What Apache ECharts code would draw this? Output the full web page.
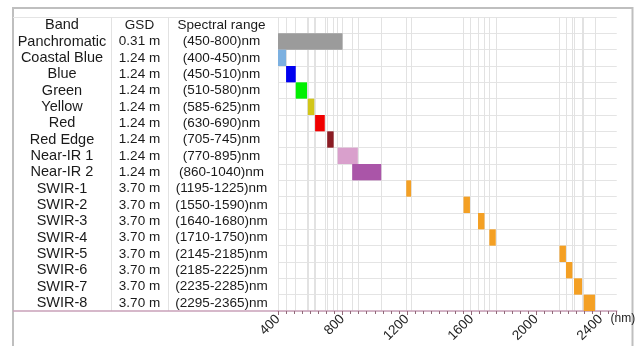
<!DOCTYPE html>
<html>
<head>
<meta charset="utf-8">
<script src="https://cdn.jsdelivr.net/npm/echarts@6/dist/echarts.min.js"></script>
<style>
html,body{margin:0;padding:0;background:#fff;}
#c{width:638px;height:346px;}
</style>
</head>
<body>
<div id="c"></div>
<script>
const headers = ['Band', 'GSD', 'Spectral range'];
const bands = ['Panchromatic', 'Coastal Blue', 'Blue', 'Green', 'Yellow', 'Red', 'Red Edge', 'Near-IR 1', 'Near-IR 2',
  'SWIR-1', 'SWIR-2', 'SWIR-3', 'SWIR-4', 'SWIR-5', 'SWIR-6', 'SWIR-7', 'SWIR-8'];
const gsd = ['0.31 m', '1.24 m', '1.24 m', '1.24 m', '1.24 m', '1.24 m', '1.24 m', '1.24 m', '1.24 m',
  '3.70 m', '3.70 m', '3.70 m', '3.70 m', '3.70 m', '3.70 m', '3.70 m', '3.70 m'];
const ranges = ['(450-800)nm', '(400-450)nm', '(450-510)nm', '(510-580)nm', '(585-625)nm', '(630-690)nm', '(705-745)nm',
  '(770-895)nm', '(860-1040)nm', '(1195-1225)nm', '(1550-1590)nm', '(1640-1680)nm', '(1710-1750)nm',
  '(2145-2185)nm', '(2185-2225)nm', '(2235-2285)nm', '(2295-2365)nm'];
// bar extents as drawn in the picture
const barStart = [400, 400, 450, 510, 585, 630, 705, 770, 860, 1195, 1550, 1640, 1710, 2145, 2185, 2235, 2295];
const barEnd = [800, 450, 510, 580, 625, 690, 745, 895, 1040, 1225, 1590, 1680, 1750, 2185, 2225, 2285, 2365];
const barColors = ['#9b9b9b', '#7cb0e0', '#0000f0', '#00f000', '#d2c619', '#f00000', '#8b1c24', '#d9a0cc', '#aa55a8',
  '#f4a024', '#f4a024', '#f4a024', '#f4a024', '#f4a024', '#f4a024', '#f4a024', '#f4a024'];

const FONT = '"Liberation Sans", Arial, sans-serif';
const rows = [headers[0]].concat(bands);
const boundaries = Array.from(new Set(barStart.concat(barEnd))).sort((a, b) => a - b);

const chart = echarts.init(document.getElementById('c'), null, {renderer: 'canvas'});
const option = {
  animation: false,
  backgroundColor: '#ffffff',
  grid: {left: 278, right: 16, top: 17, bottom: 35},
  xAxis: {
    type: 'value', min: 400, max: 2500, interval: 400,
    axisLine: {show: true, lineStyle: {color: '#c9a0b8', width: 1.5}},
    axisTick: {show: true, length: 4, lineStyle: {color: '#906878'}},
    minorTick: {show: true, splitNumber: 8, length: 3, lineStyle: {color: '#906878'}},
    splitLine: {show: false},
    axisLabel: {
      rotate: 45, margin: 6, fontSize: 13.5, color: '#222', fontFamily: FONT,
      showMaxLabel: false,
      formatter: v => (v > 2400 ? '' : String(v))
    },
    name: '(nm)', nameLocation: 'end', nameGap: -12,
    nameTextStyle: {fontSize: 12, color: '#222', fontFamily: FONT, align: 'left', verticalAlign: 'top', padding: [2, 0, 0, 0]}
  },
  yAxis: {
    type: 'category', inverse: true, data: rows,
    axisLine: {show: false}, axisTick: {show: false},
    splitLine: {show: true, lineStyle: {color: '#e4e4e4', width: 1}},
    axisLabel: {
      margin: 3, fontFamily: FONT, color: '#1a1a1a',
      formatter: (v, i) => {
        if (i === 0) return '{a|' + headers[0] + '}{b|' + headers[1] + '}{c|' + headers[2] + '}';
        return '{a|' + bands[i - 1] + '}{b|' + gsd[i - 1] + '}{c|' + ranges[i - 1] + '}';
      },
      rich: {
        a: {width: 98, align: 'center', fontSize: 14.5, fontFamily: FONT, color: '#1a1a1a'},
        b: {width: 57, align: 'center', fontSize: 13.5, fontFamily: FONT, color: '#1a1a1a'},
        c: {width: 107, align: 'center', fontSize: 13.5, fontFamily: FONT, color: '#1a1a1a'}
      }
    }
  },
  graphic: [
    {type: 'rect', silent: true, z: 0, shape: {x: 13, y: 8, width: 619.5, height: 360},
      style: {fill: null, stroke: '#bfbfbf', lineWidth: 2}},
    {type: 'line', silent: true, shape: {x1: 13, y1: 17.5, x2: 278, y2: 17.5}, style: {stroke: '#e4e4e4', lineWidth: 1}},
    {type: 'line', silent: true, shape: {x1: 111.5, y1: 17, x2: 111.5, y2: 311}, style: {stroke: '#e2e2e2', lineWidth: 1}},
    {type: 'line', silent: true, shape: {x1: 168.5, y1: 17, x2: 168.5, y2: 311}, style: {stroke: '#e2e2e2', lineWidth: 1}},
    {type: 'line', silent: true, z: 10, shape: {x1: 13, y1: 311, x2: 278, y2: 311}, style: {stroke: '#c9a0b8', lineWidth: 1.5}}
  ],
  series: [
    {
      type: 'bar', stack: 'g', barCategoryGap: 0, silent: true, z: 1,
      itemStyle: {color: 'rgba(0,0,0,0)'},
      data: [null].concat(barStart),
      markLine: {
        z: 0, silent: true, symbol: ['none', 'none'], label: {show: false},
        lineStyle: {color: '#e2e2e2', type: 'solid', width: 1},
        data: boundaries.map(v => ({xAxis: v}))
      }
    },
    {
      type: 'bar', stack: 'g', barCategoryGap: 0, silent: true, z: 3,
      data: [null].concat(barEnd.map((e, i) => ({value: e - barStart[i], itemStyle: {color: barColors[i]}})))
    }
  ]
};
chart.setOption(option);
</script>
</body>
</html>
